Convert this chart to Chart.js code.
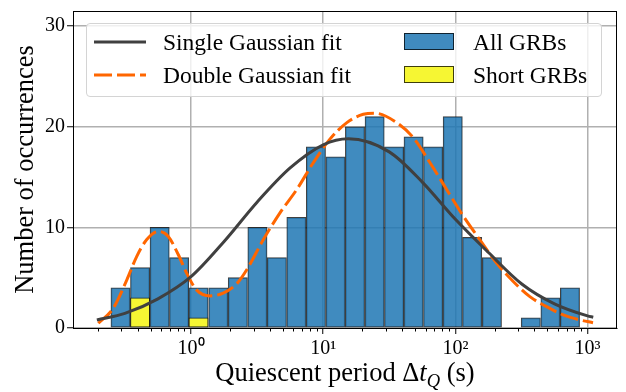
<!DOCTYPE html>
<html>
<head>
<meta charset="utf-8">
<script src="https://cdn.jsdelivr.net/npm/chart.js@4.4.1/dist/chart.umd.min.js"></script>
<style>
  html, body { margin: 0; padding: 0; background: #fff; }
  #wrap { position: relative; width: 626px; height: 392px; font-family: "Liberation Serif", serif; color: #000; }
  #chart { position: absolute; left: 0; top: 0; }
  #legend {
    position: absolute; left: 86px; top: 23px; width: 514px; height: 72px;
    border: 1px solid #d4d4d4; border-radius: 4px; background: rgba(255,255,255,0.8);
  }
  .lg-key { position: absolute; }
  .lg-text { position: absolute; font-size: 23.5px; line-height: 34px; height: 34px; white-space: nowrap; }
  #xtitle {
    position: absolute; left: 73px; width: 544px; top: 359px; text-align: center;
    font-size: 26.5px; line-height: 26px; white-space: nowrap;
  }
  #xtitle sub { font-size: 0.7em; vertical-align: baseline; position: relative; top: 0.3em; }
</style>
</head>
<body>
<div id="wrap">
  <canvas id="chart" width="626" height="392"></canvas>
  <div id="legend"></div>
  <div id="xtitle">Quiescent period &Delta;<i>t</i><sub><i>Q</i></sub> (s)</div>
</div>
<script>
"use strict";

// Histogramme (bins log), centres des classes en secondes
const binCenters = [0.293, 0.412, 0.579, 0.813, 1.14, 1.61, 2.26, 3.18, 4.46, 6.27, 8.81, 12.4,
  17.4, 24.5, 34.4, 48.3, 67.9, 95.5, 134, 189, 266, 372, 524, 736];
const allCounts = [4, 6, 10, 7, 4, 4, 5, 10, 7, 11, 18, 17, 20, 21, 18, 19, 18, 21, 9, 7, 0, 1, 3, 4];
const shortCounts = [0, 3, 0, 0, 1, 0, 0, 0, 0, 0, 0, 0, 0, 0, 0, 0, 0, 0, 0, 0, 0, 0, 0, 0];

// Courbes d'ajustement
const singleX = [0.194, 0.316, 0.562, 1, 1.78, 3.16, 5.62, 10, 15.5, 31.6, 56.2, 100, 178, 316, 562, 1000, 1104];
const singleY = [0.8, 1.45, 2.9, 5.1, 8.6, 12.5, 15.9, 18.2, 18.8, 17.5, 14.5, 10.8, 7.5, 4.4, 2.4, 1.2, 1.07];

const doubleX = [0.199, 0.258, 0.327, 0.388, 0.461, 0.566, 0.673, 0.802, 0.927, 1.10, 1.39, 1.75,
  2.22, 2.64, 3.52, 4.71, 6.31, 8.41, 11.2, 15.1, 20.1, 24.5, 36.0, 48.1, 64.3, 85.9, 115, 153,
  205, 274, 366, 490, 655, 877, 1100];
const doubleY = [0.47, 1.96, 4.79, 7.1, 8.77, 9.6, 9.1, 7.28, 5.45, 3.79, 3.19, 3.46,
  4.4, 5.78, 8.77, 11.44, 13.76, 16.42, 18.74, 20.41, 21.24, 21.35, 20.41, 18.91, 16.42, 13.76, 11.1, 8.77,
  6.45, 4.62, 3.12, 2.12, 1.30, 0.80, 0.53];

// Graduations
const xMajorTicks = [1, 10, 100, 1000];
const xMinorTicks = [0.2, 0.3, 0.4, 0.5, 0.6, 0.7, 0.8, 0.9, 2, 3, 4, 5, 6, 7, 8, 9,
  20, 30, 40, 50, 60, 70, 80, 90, 200, 300, 400, 500, 600, 700, 800, 900];
const yTicks = [0, 10, 20, 30];

const X_MIN = 0.128, X_MAX = 1670, Y_MAX = 31.5;
const FONT = "'Liberation Serif', serif";
const SUP = { 0: "\u2070", 1: "\u00B9", 2: "\u00B2", 3: "\u00B3" };

const toXY = (xs, ys) => xs.map((x, i) => ({ x, y: ys[i] }));

// cadre complet autour de la zone de tracé
const framePlugin = {
  id: "frame",
  afterDatasetsDraw(chart) {
    const { ctx, chartArea: a } = chart;
    ctx.save();
    ctx.strokeStyle = "#000";
    ctx.lineWidth = 1;
    ctx.strokeRect(Math.round(a.left) + 0.5, Math.round(a.top) + 0.5,
      Math.round(a.right - a.left) - 1, Math.round(a.bottom - a.top));
    ctx.restore();
  },
};

const barCommon = {
  borderColor: "rgba(0,0,0,0.75)",
  borderWidth: 1,
  borderSkipped: false,
  grouped: false,
  barPercentage: 1,
  categoryPercentage: 1,
};

const chart = new Chart(document.getElementById("chart"), {
  type: "bar",
  data: {
    datasets: [
      {
        type: "line", label: "Single Gaussian fit",
        data: toXY(singleX, singleY),
        borderColor: "#404040", borderWidth: 3, pointRadius: 0,
        cubicInterpolationMode: "monotone", fill: false,
      },
      {
        type: "line", label: "Double Gaussian fit",
        data: toXY(doubleX, doubleY),
        borderColor: "#ff6600", borderWidth: 3, borderDash: [18, 5], pointRadius: 0,
        cubicInterpolationMode: "monotone", fill: false,
      },
      {
        label: "Short GRBs",
        data: binCenters.map((x, i) => ({ x, y: shortCounts[i] || null })),
        backgroundColor: "#f6f633",
        ...barCommon,
      },
      {
        label: "All GRBs",
        data: toXY(binCenters, allCounts),
        backgroundColor: "rgba(31,119,180,0.85)",
        ...barCommon,
      },
    ],
  },
  options: {
    responsive: false,
    animation: false,
    layout: { padding: { top: 11, right: 9, bottom: 0, left: 0 } },
    plugins: { legend: { display: false }, tooltip: { enabled: false } },
    scales: {
      x: {
        type: "logarithmic", min: X_MIN, max: X_MAX, bounds: "data", offset: false,
        grid: { offset: false, color: "#b0b0b0", lineWidth: 1.5, tickLength: 6, tickColor: "#000", tickWidth: 1 },
        border: { color: "#000", width: 1, z: 1 },
        ticks: {
          font: { family: FONT, size: 20 }, color: "#000", padding: 3,
          autoSkip: false, maxRotation: 0,
          callback: (v) => "10" + SUP[Math.round(Math.log10(v))],
        },
        afterBuildTicks: (s) => { s.ticks = xMajorTicks.map((v) => ({ value: v })); },
        afterFit: (s) => { s.height = 64; s.paddingLeft = 0; s.paddingRight = 0; },
      },
      xm: {
        type: "logarithmic", axis: "x", position: { y: 0 },
        min: X_MIN, max: X_MAX, bounds: "data", offset: false,
        grid: { display: true, drawOnChartArea: false, offset: false, tickLength: 3.5, tickColor: "#000", tickWidth: 1 },
        border: { display: false },
        ticks: { display: false, autoSkip: false },
        afterBuildTicks: (s) => { s.ticks = xMinorTicks.map((v) => ({ value: v })); },
      },
      y: {
        min: 0, max: Y_MAX,
        grid: { color: "#b0b0b0", lineWidth: 1.5, tickLength: 6, tickColor: "#000", tickWidth: 1 },
        border: { color: "#000", width: 1, z: 1 },
        ticks: { font: { family: FONT, size: 20 }, color: "#000", padding: 2 },
        title: {
          display: true, text: "Number of occurrences", color: "#000",
          font: { family: FONT, size: 26.5 }, padding: { top: 10, bottom: 0 },
        },
        afterBuildTicks: (s) => { s.ticks = yTicks.map((v) => ({ value: v })); },
        afterFit: (s) => { s.width = 73; s.paddingTop = 0; s.paddingBottom = 0; },
      },
    },
  },
  plugins: [framePlugin],
});

// Légende HTML à deux colonnes (courbes à gauche, histogrammes à droite)
function buildLegend(chart) {
  const box = document.getElementById("legend");
  const slots = [
    { ds: 0, left: 7, top: 1 },
    { ds: 1, left: 7, top: 34 },
    { ds: 3, left: 317, top: 1 },
    { ds: 2, left: 317, top: 34 },
  ];
  slots.forEach((s) => {
    const d = chart.data.datasets[s.ds];
    let key;
    if (d.type === "line") {
      key = document.createElementNS("http://www.w3.org/2000/svg", "svg");
      key.setAttribute("width", "52");
      key.setAttribute("height", "6");
      const ln = document.createElementNS("http://www.w3.org/2000/svg", "line");
      ln.setAttribute("x1", "0"); ln.setAttribute("y1", "3");
      ln.setAttribute("x2", "52"); ln.setAttribute("y2", "3");
      ln.setAttribute("stroke", d.borderColor);
      ln.setAttribute("stroke-width", d.borderWidth);
      if (d.borderDash) ln.setAttribute("stroke-dasharray", d.borderDash.join(" "));
      key.appendChild(ln);
      key.style.top = s.top + 14 + "px";
    } else {
      key = document.createElement("div");
      key.style.width = "48px";
      key.style.height = "15px";
      key.style.background = d.backgroundColor;
      key.style.border = "1px solid " + d.borderColor;
      key.style.top = s.top + 8 + "px";
    }
    key.classList.add("lg-key");
    key.style.left = s.left + "px";
    box.appendChild(key);

    const txt = document.createElement("div");
    txt.className = "lg-text";
    txt.textContent = d.label;
    txt.style.left = s.left + 69 + "px";
    txt.style.top = s.top + "px";
    box.appendChild(txt);
  });
}
buildLegend(chart);
</script>
</body>
</html>
